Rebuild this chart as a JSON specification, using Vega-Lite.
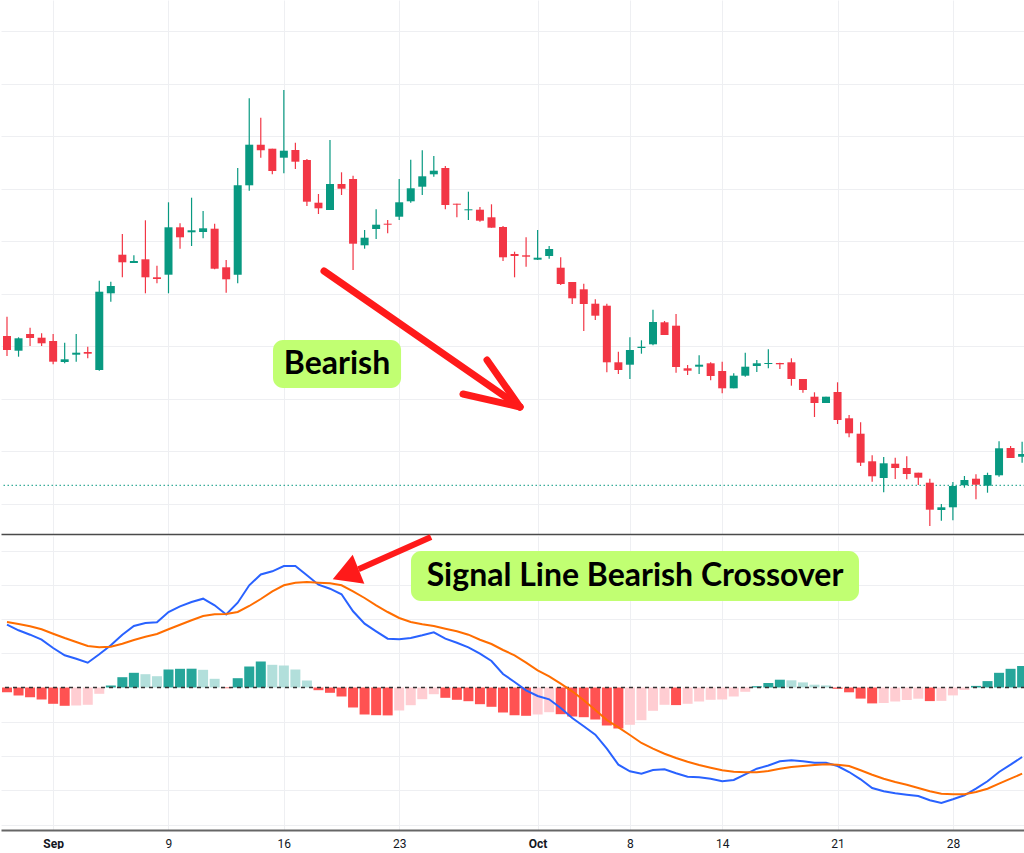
{
  "$schema": "https://vega.github.io/schema/vega-lite/v6.json",
  "padding": 0,
  "spacing": 0,
  "background": "white",
  "config": {
    "view": {"stroke": null},
    "scale": {"continuousPadding": 0},
    "axis": {"minExtent": 0, "maxExtent": 40, "gridColor": "#eeeff2", "gridWidth": 1, "title": null}
  },
  "datasets": {
    "candles": [
      {"i":0,"o":198,"h":217.3,"l":178,"c":184},
      {"i":1,"o":183.3,"h":196.7,"l":177.3,"c":195.7},
      {"i":2,"o":200,"h":206.3,"l":188,"c":196},
      {"i":3,"o":196.3,"h":200.7,"l":188,"c":190.7},
      {"i":4,"o":193,"h":200,"l":169.7,"c":172.3},
      {"i":5,"o":172,"h":191.3,"l":170.7,"c":174.7},
      {"i":6,"o":179.3,"h":200,"l":172.3,"c":181.3},
      {"i":7,"o":182,"h":187.3,"l":175.7,"c":180.3},
      {"i":8,"o":164,"h":253.3,"l":163.3,"c":242.3},
      {"i":9,"o":240.7,"h":252.3,"l":232.3,"c":248},
      {"i":10,"o":279.3,"h":300,"l":256.7,"c":271.7},
      {"i":11,"o":271,"h":278.7,"l":271,"c":273},
      {"i":12,"o":274.7,"h":313.7,"l":240.7,"c":256.7},
      {"i":13,"o":256.7,"h":268.3,"l":250.7,"c":255},
      {"i":14,"o":259.3,"h":331.7,"l":240.7,"c":306.7},
      {"i":15,"o":306.7,"h":310.7,"l":285.3,"c":296.7},
      {"i":16,"o":301.7,"h":336.3,"l":288,"c":303.7},
      {"i":17,"o":302,"h":323,"l":295.7,"c":305.7},
      {"i":18,"o":305.3,"h":310.3,"l":264.7,"c":265.3},
      {"i":19,"o":266.7,"h":274,"l":241.3,"c":254.7},
      {"i":20,"o":259.3,"h":366,"l":250.7,"c":348.7},
      {"i":21,"o":348.7,"h":435.7,"l":343.3,"c":389.3},
      {"i":22,"o":389.3,"h":416.3,"l":376.3,"c":383.7},
      {"i":23,"o":385.3,"h":385.3,"l":359.7,"c":363},
      {"i":24,"o":376.3,"h":444,"l":360.7,"c":383.3},
      {"i":25,"o":384,"h":391.3,"l":365,"c":372.3},
      {"i":26,"o":374,"h":375,"l":328,"c":332.3},
      {"i":27,"o":331.3,"h":340,"l":320,"c":325.7},
      {"i":28,"o":324,"h":394,"l":324,"c":350},
      {"i":29,"o":350,"h":361.7,"l":339,"c":345.3},
      {"i":30,"o":355,"h":358.3,"l":264,"c":290.3},
      {"i":31,"o":288.7,"h":304,"l":285.3,"c":296.3},
      {"i":32,"o":305,"h":324.7,"l":295,"c":309.3},
      {"i":33,"o":310.3,"h":314,"l":300.7,"c":309.3},
      {"i":34,"o":317.3,"h":355,"l":314,"c":331.7},
      {"i":35,"o":332.7,"h":374.3,"l":331.3,"c":345.7},
      {"i":36,"o":347.3,"h":383.7,"l":339,"c":357.7},
      {"i":37,"o":359.7,"h":378,"l":357.3,"c":363.3},
      {"i":38,"o":366,"h":368,"l":324.7,"c":329},
      {"i":39,"o":330.3,"h":330.3,"l":316.7,"c":329.3},
      {"i":40,"o":323.7,"h":342.3,"l":314,"c":324.7},
      {"i":41,"o":324.3,"h":327,"l":312.3,"c":313.3},
      {"i":42,"o":316.7,"h":329.7,"l":306.3,"c":306.3},
      {"i":43,"o":307,"h":308,"l":273,"c":276.7},
      {"i":44,"o":280,"h":282.3,"l":256.7,"c":278},
      {"i":45,"o":278.7,"h":296.7,"l":267.3,"c":277.3},
      {"i":46,"o":274.3,"h":304,"l":274,"c":276.3},
      {"i":47,"o":278,"h":288,"l":275.3,"c":285},
      {"i":48,"o":266.3,"h":276.7,"l":249,"c":250},
      {"i":49,"o":252,"h":252,"l":230,"c":235.7},
      {"i":50,"o":244.7,"h":250.3,"l":203,"c":230},
      {"i":51,"o":230.3,"h":234.7,"l":214,"c":218.3},
      {"i":52,"o":228.3,"h":230.3,"l":161.7,"c":171.7},
      {"i":53,"o":171.7,"h":182.3,"l":160,"c":164},
      {"i":54,"o":169.3,"h":196.7,"l":155,"c":184},
      {"i":55,"o":186,"h":193.7,"l":180.3,"c":187.3},
      {"i":56,"o":189.7,"h":224.3,"l":188.7,"c":212},
      {"i":57,"o":211.7,"h":213,"l":199,"c":199},
      {"i":58,"o":208.3,"h":220,"l":161.3,"c":167},
      {"i":59,"o":165.7,"h":169,"l":159,"c":163.3},
      {"i":60,"o":167.3,"h":178.7,"l":160,"c":169.3},
      {"i":61,"o":170.7,"h":171.7,"l":153.7,"c":158},
      {"i":62,"o":163,"h":172.3,"l":140.7,"c":145.7},
      {"i":63,"o":145.7,"h":160.7,"l":145.7,"c":158.3},
      {"i":64,"o":158.3,"h":181.3,"l":157.3,"c":167.3},
      {"i":65,"o":168,"h":174,"l":162,"c":170.7},
      {"i":66,"o":170,"h":184.7,"l":165.7,"c":171},
      {"i":67,"o":171,"h":171.3,"l":165,"c":169.7},
      {"i":68,"o":171.7,"h":175.7,"l":148.3,"c":155},
      {"i":69,"o":155,"h":155,"l":141.3,"c":144},
      {"i":70,"o":137.3,"h":141.7,"l":117,"c":131},
      {"i":71,"o":131,"h":137.3,"l":131,"c":137.3},
      {"i":72,"o":142,"h":151.7,"l":110,"c":114},
      {"i":73,"o":115.7,"h":119,"l":96.7,"c":100.7},
      {"i":74,"o":100.3,"h":111.7,"l":68,"c":71.3},
      {"i":75,"o":72.7,"h":78.7,"l":52.3,"c":57.7},
      {"i":76,"o":56,"h":77,"l":41.7,"c":70.7},
      {"i":77,"o":70.3,"h":76.3,"l":55,"c":66},
      {"i":78,"o":66,"h":77.7,"l":54.7,"c":60},
      {"i":79,"o":61.3,"h":61.3,"l":49,"c":56.3},
      {"i":80,"o":51.3,"h":55.3,"l":8,"c":24.3},
      {"i":81,"o":24,"h":30,"l":13.3,"c":26.7},
      {"i":82,"o":26.7,"h":52,"l":13.7,"c":48},
      {"i":83,"o":48.7,"h":58,"l":46.3,"c":54},
      {"i":84,"o":55.3,"h":59.7,"l":34.7,"c":49.3},
      {"i":85,"o":48.3,"h":61.3,"l":41.3,"c":59},
      {"i":86,"o":58.7,"h":92.7,"l":57.3,"c":85.7},
      {"i":87,"o":86,"h":88,"l":76,"c":76},
      {"i":88,"o":77.3,"h":92.3,"l":71.3,"c":80}
    ],
    "macd": [
      {"i":0,"macd":62.8,"signal":65.5,"hist":-4.7,"phase":"down"},
      {"i":1,"macd":57.2,"signal":63.5,"hist":-8,"phase":"down"},
      {"i":2,"macd":52.8,"signal":61.2,"hist":-9.7,"phase":"down"},
      {"i":3,"macd":47.8,"signal":58.2,"hist":-12,"phase":"down"},
      {"i":4,"macd":39.5,"signal":53.8,"hist":-16.3,"phase":"down"},
      {"i":5,"macd":32.2,"signal":49.5,"hist":-18.3,"phase":"down"},
      {"i":6,"macd":28.8,"signal":45.5,"hist":-18,"phase":"downFade"},
      {"i":7,"macd":24.8,"signal":41.5,"hist":-17.3,"phase":"downFade"},
      {"i":8,"macd":33.2,"signal":40.2,"hist":-6.3,"phase":"downFade"},
      {"i":9,"macd":42.2,"signal":40.8,"hist":2,"phase":"up"},
      {"i":10,"macd":52.8,"signal":43.8,"hist":10.3,"phase":"up"},
      {"i":11,"macd":61.5,"signal":47.5,"hist":14.7,"phase":"up"},
      {"i":12,"macd":64.5,"signal":50.8,"hist":13.3,"phase":"upFade"},
      {"i":13,"macd":65.2,"signal":53.5,"hist":11.3,"phase":"upFade"},
      {"i":14,"macd":75.5,"signal":58.2,"hist":18,"phase":"up"},
      {"i":15,"macd":81.2,"signal":62.8,"hist":18.7,"phase":"up"},
      {"i":16,"macd":85.5,"signal":67.2,"hist":18.8,"phase":"up"},
      {"i":17,"macd":88.8,"signal":71.5,"hist":17.7,"phase":"upFade"},
      {"i":18,"macd":82.2,"signal":73.2,"hist":8.7,"phase":"upFade"},
      {"i":19,"macd":73,"signal":73.5,"hist":-0.7,"phase":"down"},
      {"i":20,"macd":84.8,"signal":75.5,"hist":9.3,"phase":"up"},
      {"i":21,"macd":102.2,"signal":81.5,"hist":21,"phase":"up"},
      {"i":22,"macd":113,"signal":88.5,"hist":26,"phase":"up"},
      {"i":23,"macd":116.2,"signal":96.2,"hist":22.7,"phase":"upFade"},
      {"i":24,"macd":121.5,"signal":102.2,"hist":22,"phase":"upFade"},
      {"i":25,"macd":121.5,"signal":104.8,"hist":18,"phase":"upFade"},
      {"i":26,"macd":112.2,"signal":105.5,"hist":7,"phase":"upFade"},
      {"i":27,"macd":102.8,"signal":104.8,"hist":-2.7,"phase":"down"},
      {"i":28,"macd":98.8,"signal":104.2,"hist":-5.3,"phase":"down"},
      {"i":29,"macd":93.2,"signal":102.2,"hist":-9,"phase":"down"},
      {"i":30,"macd":76.2,"signal":96.2,"hist":-20,"phase":"down"},
      {"i":31,"macd":63.8,"signal":89.5,"hist":-27,"phase":"down"},
      {"i":32,"macd":56.2,"signal":82.2,"hist":-27.7,"phase":"down"},
      {"i":33,"macd":48.8,"signal":75.5,"hist":-27.9,"phase":"down"},
      {"i":34,"macd":48.2,"signal":69.5,"hist":-23,"phase":"downFade"},
      {"i":35,"macd":49.5,"signal":65.5,"hist":-17.7,"phase":"downFade"},
      {"i":36,"macd":52.2,"signal":63.2,"hist":-11.7,"phase":"downFade"},
      {"i":37,"macd":55.2,"signal":61.5,"hist":-6.7,"phase":"downFade"},
      {"i":38,"macd":48.8,"signal":58.8,"hist":-10.3,"phase":"down"},
      {"i":39,"macd":44.8,"signal":56.2,"hist":-12.3,"phase":"down"},
      {"i":40,"macd":40.2,"signal":52.8,"hist":-13.7,"phase":"down"},
      {"i":41,"macd":33.8,"signal":47.8,"hist":-16.7,"phase":"down"},
      {"i":42,"macd":26.5,"signal":43.5,"hist":-19.3,"phase":"down"},
      {"i":43,"macd":13.5,"signal":37.5,"hist":-25,"phase":"down"},
      {"i":44,"macd":5.5,"signal":32.2,"hist":-27.7,"phase":"down"},
      {"i":45,"macd":-2.8,"signal":24.8,"hist":-28.3,"phase":"down"},
      {"i":46,"macd":-8.5,"signal":17.2,"hist":-27,"phase":"downFade"},
      {"i":47,"macd":-11.8,"signal":11.2,"hist":-24.7,"phase":"downFade"},
      {"i":48,"macd":-20.5,"signal":3.8,"hist":-26.7,"phase":"down"},
      {"i":49,"macd":-30.5,"signal":-3.8,"hist":-29,"phase":"down"},
      {"i":50,"macd":-38.8,"signal":-12.8,"hist":-29.7,"phase":"down"},
      {"i":51,"macd":-47.2,"signal":-22.5,"hist":-32,"phase":"down"},
      {"i":52,"macd":-61.2,"signal":-32.5,"hist":-38,"phase":"down"},
      {"i":53,"macd":-77.2,"signal":-39.8,"hist":-41,"phase":"down"},
      {"i":54,"macd":-83.8,"signal":-47.5,"hist":-37.3,"phase":"downFade"},
      {"i":55,"macd":-86.2,"signal":-55.5,"hist":-32.7,"phase":"downFade"},
      {"i":56,"macd":-82.5,"signal":-61.2,"hist":-23.3,"phase":"downFade"},
      {"i":57,"macd":-81.8,"signal":-66.2,"hist":-17.3,"phase":"downFade"},
      {"i":58,"macd":-85.8,"signal":-70.5,"hist":-17.6,"phase":"down"},
      {"i":59,"macd":-89.2,"signal":-74.2,"hist":-16.3,"phase":"downFade"},
      {"i":60,"macd":-89.8,"signal":-77.5,"hist":-14,"phase":"downFade"},
      {"i":61,"macd":-91.2,"signal":-80.2,"hist":-12.3,"phase":"downFade"},
      {"i":62,"macd":-93.8,"signal":-82.8,"hist":-12,"phase":"downFade"},
      {"i":63,"macd":-92.5,"signal":-84.2,"hist":-9,"phase":"downFade"},
      {"i":64,"macd":-86.8,"signal":-84.8,"hist":-4.3,"phase":"downFade"},
      {"i":65,"macd":-81.2,"signal":-84.8,"hist":1.3,"phase":"up"},
      {"i":66,"macd":-78,"signal":-83.5,"hist":4.5,"phase":"up"},
      {"i":67,"macd":-73.8,"signal":-81.2,"hist":7.8,"phase":"up"},
      {"i":68,"macd":-72.8,"signal":-79.5,"hist":7.2,"phase":"upFade"},
      {"i":69,"macd":-73.8,"signal":-78.5,"hist":5.1,"phase":"upFade"},
      {"i":70,"macd":-75.2,"signal":-77.5,"hist":2.8,"phase":"upFade"},
      {"i":71,"macd":-75.2,"signal":-76.8,"hist":2.1,"phase":"upFade"},
      {"i":72,"macd":-78.5,"signal":-77.2,"hist":-1.3,"phase":"down"},
      {"i":73,"macd":-84.5,"signal":-78.5,"hist":-4.8,"phase":"down"},
      {"i":74,"macd":-91.8,"signal":-82.8,"hist":-11.1,"phase":"down"},
      {"i":75,"macd":-100.5,"signal":-87.2,"hist":-15.9,"phase":"down"},
      {"i":76,"macd":-103.8,"signal":-91.2,"hist":-15.5,"phase":"downFade"},
      {"i":77,"macd":-105.8,"signal":-94.5,"hist":-14,"phase":"downFade"},
      {"i":78,"macd":-107.2,"signal":-97.2,"hist":-12.5,"phase":"downFade"},
      {"i":79,"macd":-108.5,"signal":-100.5,"hist":-11.2,"phase":"downFade"},
      {"i":80,"macd":-112.8,"signal":-103.8,"hist":-13.6,"phase":"down"},
      {"i":81,"macd":-115.5,"signal":-106.2,"hist":-13.4,"phase":"downFade"},
      {"i":82,"macd":-111.8,"signal":-106.8,"hist":-7.9,"phase":"downFade"},
      {"i":83,"macd":-107.8,"signal":-106.8,"hist":-2.5,"phase":"downFade"},
      {"i":84,"macd":-101.2,"signal":-104.5,"hist":1.6,"phase":"up"},
      {"i":85,"macd":-93.8,"signal":-101.2,"hist":6.4,"phase":"up"},
      {"i":86,"macd":-84.5,"signal":-96.2,"hist":14.7,"phase":"up"},
      {"i":87,"macd":-77.2,"signal":-91.2,"hist":18.7,"phase":"up"},
      {"i":88,"macd":-69.5,"signal":-86.2,"hist":21.4,"phase":"up"}
    ]
  },
  "vconcat": [
    {
      "width": 1024,
      "height": 534,
      "layer": [
        {
          "data": {"name": "candles"},
          "mark": {"type": "rule", "strokeWidth": 1.2},
          "encoding": {
            "x": {"field": "i", "type": "quantitative", "scale": {"domain": [-0.52, 88.25], "nice": false, "zero": false, "padding": 0},
              "axis": {"values": [4,14,24,34,46,54,62,72,82], "labels": false, "ticks": false, "grid": true, "domain": true, "domainColor": "#4a4a4a", "domainWidth": 1.5, "title": null}},
            "y": {"field": "l", "type": "quantitative", "scale": {"domain": [0, 534], "nice": false, "zero": false, "padding": 0},
              "axis": {"values": [30.5, 83, 135.5, 188, 240.5, 293, 345.5, 398, 450.5, 503], "labels": false, "ticks": false, "domain": false, "grid": true, "title": null}},
            "y2": {"field": "h"},
            "color": {"condition": {"test": "datum.c >= datum.o", "value": "#089981"}, "value": "#f23645"}
          }
        },
        {
          "data": {"values": [{"last": 48.7}]},
          "mark": {"type": "rule", "color": "#089981", "strokeDash": [1.5, 2.5], "strokeWidth": 1},
          "encoding": {"y": {"field": "last", "type": "quantitative"}}
        },
        {
          "data": {"name": "candles"},
          "mark": {"type": "bar", "size": 8},
          "encoding": {
            "x": {"field": "i", "type": "quantitative"},
            "y": {"field": "o", "type": "quantitative"},
            "y2": {"field": "c"},
            "color": {"condition": {"test": "datum.c >= datum.o", "value": "#089981"}, "value": "#f23645"}
          }
        },
        {
          "data": {"values": [{"x1": 23.06, "x2": 34.16, "y1": 146, "y2": 194, "tx": 28.61, "ty": 170, "label": "Bearish"}]},
          "layer": [
            {
              "mark": {"type": "rect", "color": "#c1ff72", "cornerRadius": 10},
              "encoding": {
                "x": {"field": "x1", "type": "quantitative"}, "x2": {"field": "x2"},
                "y": {"field": "y1", "type": "quantitative"}, "y2": {"field": "y2"}
              }
            },
            {
              "mark": {"type": "text", "font": "Lato", "fontWeight": "bold", "fontSize": 32, "color": "#000000", "align": "center", "baseline": "middle"},
              "encoding": {
                "x": {"field": "tx", "type": "quantitative"},
                "y": {"field": "ty", "type": "quantitative"},
                "text": {"field": "label"}
              }
            }
          ]
        },
        {
          "data": {"values": [
            {"x1": 27.48, "y1": 263, "x2": 44.47, "y2": 127},
            {"x1": 41.61, "y1": 174, "x2": 44.47, "y2": 127},
            {"x1": 39.53, "y1": 140, "x2": 44.47, "y2": 127}
          ]},
          "mark": {"type": "rule", "color": "#ff1a1a", "strokeWidth": 7, "strokeCap": "round"},
          "encoding": {
            "x": {"field": "x1", "type": "quantitative"}, "x2": {"field": "x2"},
            "y": {"field": "y1", "type": "quantitative"}, "y2": {"field": "y2"}
          }
        }
      ]
    },
    {
      "width": 1024,
      "height": 294,
      "layer": [
        {
          "data": {"name": "macd"},
          "mark": {"type": "bar", "size": 10},
          "encoding": {
            "x": {"field": "i", "type": "quantitative", "scale": {"domain": [-0.52, 88.25], "nice": false, "zero": false, "padding": 0},
              "axis": {"values": [4,14,24,34,46,54,62,72,82], "grid": true, "ticks": false, "domainColor": "#666666", "domainWidth": 2,
                "labelFont": "Roboto", "labelFontSize": 12, "labelColor": "#131722", "labelPadding": 8, "labelFlush": false, "labelOverlap": false, "title": null,
                "labelExpr": "datum.value == 4 ? 'Sep' : datum.value == 14 ? '9' : datum.value == 24 ? '16' : datum.value == 34 ? '23' : datum.value == 46 ? 'Oct' : datum.value == 54 ? '8' : datum.value == 62 ? '14' : datum.value == 72 ? '21' : '28'",
                "labelFontWeight": {"condition": {"test": "datum.value == 4 || datum.value == 46", "value": "bold"}, "value": "normal"}}},
            "y": {"field": "hist", "type": "quantitative", "scale": {"domain": [-142.5, 151.5], "nice": false, "zero": false, "padding": 0},
              "axis": {"values": [137, 102.75, 68.5, 34.25, -34.25, -68.5, -102.75, -137], "labels": false, "ticks": false, "domain": false, "grid": true, "title": null}},
            "y2": {"datum": 0},
            "color": {"field": "phase", "type": "nominal", "legend": null,
              "scale": {"domain": ["up", "upFade", "down", "downFade"], "range": ["#26a69a", "#b2dfdb", "#ff5252", "#ffcdd2"]}}
          }
        },
        {
          "data": {"values": [{"zero": 0}]},
          "mark": {"type": "rule", "color": "#333333", "strokeDash": [4, 4], "strokeWidth": 1.3},
          "encoding": {"y": {"field": "zero", "type": "quantitative"}}
        },
        {
          "data": {"name": "macd"},
          "mark": {"type": "line", "color": "#2962ff", "strokeWidth": 2},
          "encoding": {
            "x": {"field": "i", "type": "quantitative"},
            "y": {"field": "macd", "type": "quantitative"}
          }
        },
        {
          "data": {"name": "macd"},
          "mark": {"type": "line", "color": "#ff6d00", "strokeWidth": 2},
          "encoding": {
            "x": {"field": "i", "type": "quantitative"},
            "y": {"field": "signal", "type": "quantitative"}
          }
        },
        {
          "data": {"values": [{"x1": 35.02, "x2": 73.86, "y1": 86.5, "y2": 136.5, "tx": 54.44, "ty": 111.5, "label": "Signal Line Bearish Crossover"}]},
          "layer": [
            {
              "mark": {"type": "rect", "color": "#c1ff72", "cornerRadius": 10},
              "encoding": {
                "x": {"field": "x1", "type": "quantitative"}, "x2": {"field": "x2"},
                "y": {"field": "y1", "type": "quantitative"}, "y2": {"field": "y2"}
              }
            },
            {
              "mark": {"type": "text", "font": "Lato", "fontWeight": "bold", "fontSize": 32, "color": "#000000", "align": "center", "baseline": "middle"},
              "encoding": {
                "x": {"field": "tx", "type": "quantitative"},
                "y": {"field": "ty", "type": "quantitative"},
                "text": {"field": "label"}
              }
            }
          ]
        },
        {
          "data": {"values": [{"x1": 36.76, "y1": 150.5, "x2": 30.47, "y2": 118.3}]},
          "mark": {"type": "rule", "color": "#ff1a1a", "strokeWidth": 6},
          "encoding": {
            "x": {"field": "x1", "type": "quantitative"}, "x2": {"field": "x2"},
            "y": {"field": "y1", "type": "quantitative"}, "y2": {"field": "y2"}
          }
        },
        {
          "data": {"values": [
            {"ax": 28.24, "top": 108.2, "bot": 108.2},
            {"ax": 29.97, "top": 132.8, "bot": 105.4},
            {"ax": 30.98, "top": 103.8, "bot": 103.8}
          ]},
          "mark": {"type": "area", "color": "#ff1a1a", "opacity": 1, "interpolate": "linear"},
          "encoding": {
            "x": {"field": "ax", "type": "quantitative"},
            "y": {"field": "top", "type": "quantitative"},
            "y2": {"field": "bot"}
          }
        }
      ]
    }
  ]
}
